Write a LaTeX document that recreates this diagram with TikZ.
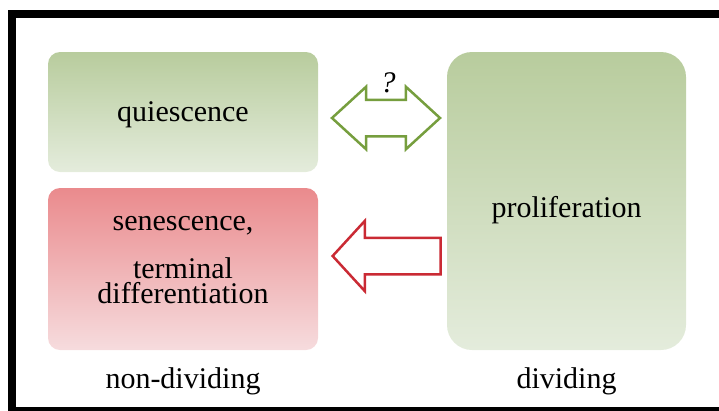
\documentclass[tikz,border=0pt]{standalone}
\usepackage{fontspec}
\setmainfont{Liberation Serif}
\usetikzlibrary{positioning, shapes.arrows}
\definecolor{greenTop}{RGB}{184,204,157}
\definecolor{greenBot}{RGB}{228,236,220}
\definecolor{redTop}{RGB}{234,138,141}
\definecolor{redBot}{RGB}{246,220,222}
\definecolor{greenLine}{RGB}{118,158,62}
\definecolor{redLine}{RGB}{202,42,52}
\newcommand{\phasefont}{\fontsize{30}{25}\selectfont}

\begin{document}
\begin{tikzpicture}[x=1pt, y=-1pt, outer sep=0pt, inner sep=0pt, font=\phasefont,
		greenbox/.style={rounded corners=12pt, top color=greenTop, bottom color=greenBot},
		redbox/.style={rounded corners=12pt, top color=redTop, bottom color=redBot},
		blockarrow/.style={line width=2.5pt, fill=white, minimum height=108pt, inner xsep=0pt, inner ysep=17pt}]

	\useasboundingbox (0,0) rectangle (719,410);
	\clip (0,0) rectangle (719,410);
	\draw [line width=8pt] (12,14) rectangle (724,411);

	% phases
	\node [greenbox, minimum width=270pt, minimum height=120pt]	(quies)	at (183,112)	{};
	\node [redbox, minimum width=270pt, minimum height=162pt]	(senes)	[below=16pt of quies]	{};
	\node [greenbox, rounded corners=25pt, minimum width=239pt, minimum height=298pt]	(prolif)	[right=129pt of quies.north east, anchor=north west]	{};

	\node 					(quitext)	at ([yshift=-3pt]quies.center)	{quiescence};
	\node [align=center]	(sentext)	at ([yshift=9pt]senes.center)	{senescence,\\[21pt]terminal\\differentiation};
	\node 					(proltext)	at ([yshift=-9pt]prolif.center)	{proliferation};

	\node 	(nondiv)	at ([yshift=-31pt]senes.south)	{non-dividing};
	\node 	(div)		at ([yshift=-31pt]prolif.south)	{dividing};

	% transitions
	\node [double arrow, blockarrow, draw=greenLine, double arrow head extend=13pt, double arrow tip angle=85]	(qp)	at (386,118)	{};
	\node [font=\phasefont\itshape]	(ask)	at (388,83)	{?};
	\node [single arrow, blockarrow, shape border rotate=180, draw=redLine, single arrow head extend=17pt, single arrow tip angle=95]	(ps)	at (395,256)	{};

\end{tikzpicture}
\end{document}
